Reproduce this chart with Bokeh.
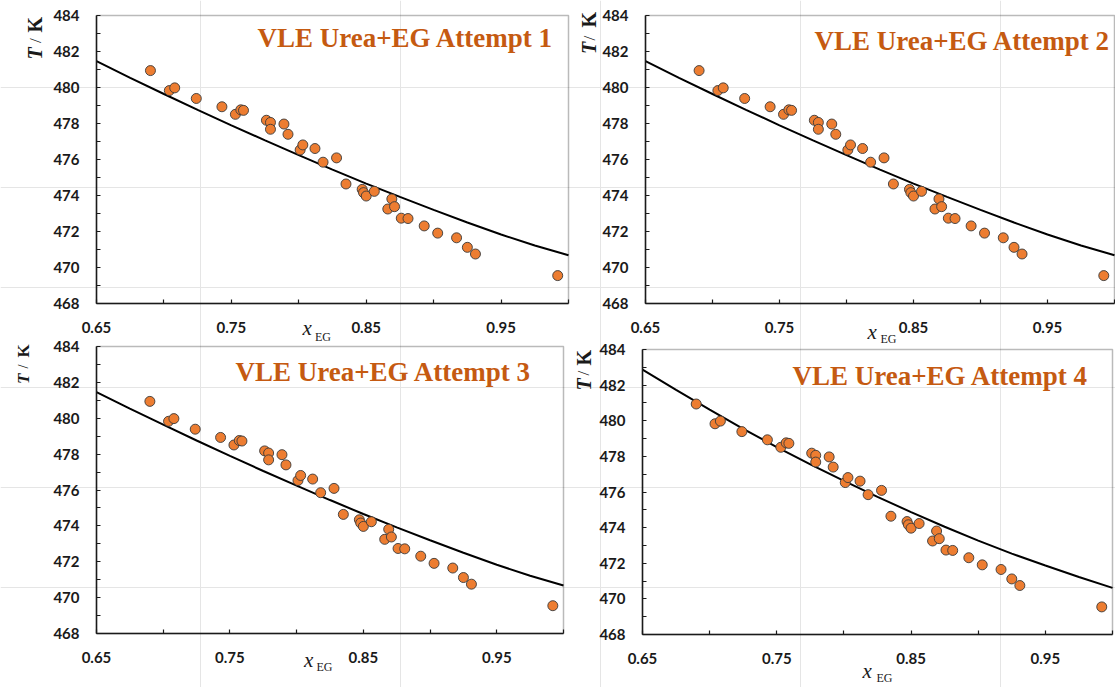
import math
from bokeh.plotting import figure
from bokeh.models import FixedTicker, Label, Range1d, LinearAxis, BoxAnnotation
from bokeh.embed import file_html
from bokeh.resources import INLINE

# ---------------- data ----------------
x_exp = [0.690, 0.704, 0.708, 0.724, 0.743, 0.753, 0.757, 0.759, 0.776, 0.779,
         0.779, 0.789, 0.792, 0.801, 0.803, 0.812, 0.818, 0.828, 0.835, 0.847,
         0.848, 0.850, 0.856, 0.866, 0.869, 0.871, 0.876, 0.881, 0.893, 0.903,
         0.917, 0.925, 0.931, 0.992]
T_exp = [480.94, 479.83, 479.98, 479.39, 478.93, 478.51, 478.76, 478.73, 478.18, 478.06,
         477.68, 477.97, 477.40, 476.53, 476.81, 476.61, 475.85, 476.09, 474.64, 474.34,
         474.16, 473.97, 474.23, 473.25, 473.81, 473.38, 472.74, 472.72, 472.31, 471.91,
         471.65, 471.12, 470.75, 469.55]

x_model = [0.650, 0.675, 0.700, 0.725, 0.750, 0.775, 0.800, 0.825,
           0.850, 0.875, 0.900, 0.925, 0.950, 0.975, 1.000]
T_model_attempts_1_3 = [481.46, 480.54, 479.64, 478.76, 477.90, 477.06, 476.24, 475.44,
                        474.66, 473.92, 473.20, 472.50, 471.83, 471.22, 470.68]
T_model_attempt_4 = [482.87, 481.73, 480.62, 479.55, 478.52, 477.55, 476.62, 475.73,
                     474.87, 474.05, 473.27, 472.54, 471.87, 471.23, 470.62]

attempt_titles = ["VLE Urea+EG Attempt 1", "VLE Urea+EG Attempt 2",
                  "VLE Urea+EG Attempt 3", "VLE Urea+EG Attempt 4"]

x_major_ticks = [0.65, 0.75, 0.85, 0.95]
x_minor_ticks = [0.70, 0.80, 0.90, 1.00]
y_major_ticks = [468, 470, 472, 474, 476, 478, 480, 482, 484]
y_minor_ticks = [469, 471, 473, 475, 477, 479, 481, 483]

# ---------------- styling / layout ----------------
X0, X1, Y0, Y1 = 0.65, 1.0, 468.0, 484.0
PAGE_W, PAGE_H = 1115, 687
SERIF = "Liberation Serif"
SANS = "Lato"
INK = "#1a1a1a"
MARKER_FILL = "#ED7D31"
TITLE_COLOR = "#C55A11"

# plot boxes in page pixels: (left, top, width, height)
boxes = [(96, 15, 472, 288), (645, 15, 469, 288),
         (96, 346, 467, 287), (642, 349, 470, 285)]
models = [T_model_attempts_1_3, T_model_attempts_1_3, T_model_attempts_1_3, T_model_attempt_4]
# title: (offset of right end from box right, offset of text middle from box top)
title_offs = [(-15, 22.5), (-4, 25.5), (-32, 25.5), (-24, 26)]
# T / K: (x of text middle from box left, start of T, start of '/', start of K from box top), size
tk_offs = [((-61.5, 44, 27.5, 17), 20), ((-56.5, 38.5, 25, 12), 20),
           ((-73, 37.5, 22, 11), 17), ((-59, 41, 26, 16), 20)]
# x_EG: (x left from box left, middle below box bottom, EG left, EG middle)
xeg_offs = [(206, 24.5, 218.5, 33), (222, 28.5, 235, 35),
            (207.5, 26, 220, 33), (220, 36.5, 234, 43.5)]

p = figure(frame_width=PAGE_W, frame_height=PAGE_H, title=None,
           min_border=0, min_border_left=0, min_border_right=0,
           min_border_top=0, min_border_bottom=0,
           x_axis_location=None, y_axis_location=None,
           x_range=Range1d(0, PAGE_W), y_range=Range1d(0, PAGE_H),
           output_backend="svg", toolbar_location=None,
           background_fill_color="white", border_fill_color="white")
p.outline_line_color = None

ex_x, ex_y = {}, {}
for i, (L, T, W, H) in enumerate(boxes):
    sx = (X1 - X0) / W
    sy = (Y1 - Y0) / H
    ex_x[f"x{i}"] = Range1d(X0 - L * sx, X0 + (PAGE_W - L) * sx)
    ex_y[f"y{i}"] = Range1d(Y0 - (PAGE_H - T - H) * sy, Y1 + T * sy)
p.extra_x_ranges = ex_x
p.extra_y_ranges = ex_y

for i, (L, T, W, H) in enumerate(boxes):
    xn, yn = f"x{i}", f"y{i}"
    sx = (X1 - X0) / W
    sy = (Y1 - Y0) / H

    def dx(px):
        return X0 + px * sx

    def dy_top(px):
        return Y1 - px * sy

    def dy_bot(px):
        return Y0 - px * sy

    xaxis = LinearAxis(x_range_name=xn, y_range_name=yn, fixed_location=Y0, bounds=(X0, X1),
                       ticker=FixedTicker(ticks=x_major_ticks, minor_ticks=x_minor_ticks))
    yaxis = LinearAxis(x_range_name=xn, y_range_name=yn, fixed_location=X0, bounds=(Y0, Y1),
                       ticker=FixedTicker(ticks=y_major_ticks, minor_ticks=y_minor_ticks))
    for ax in (xaxis, yaxis):
        ax.axis_line_color = INK
        ax.axis_line_width = 1.5
        ax.major_tick_in = 4
        ax.major_tick_out = 0
        ax.minor_tick_in = 4
        ax.minor_tick_out = 0
        ax.major_tick_line_color = INK
        ax.minor_tick_line_color = INK
        ax.major_tick_line_width = 1.2
        ax.minor_tick_line_width = 1.2
        ax.major_label_text_font = SANS
        ax.major_label_text_font_style = "bold"
        ax.major_label_text_font_size = "15px"
        ax.major_label_text_color = INK
    xaxis.major_label_standoff = 18
    yaxis.major_label_standoff = 17
    p.add_layout(xaxis, "below")
    p.add_layout(yaxis, "left")

    p.add_layout(BoxAnnotation(left=X0, right=X1, bottom=Y0, top=Y1,
                               x_range_name=xn, y_range_name=yn,
                               fill_color=None, fill_alpha=0,
                               line_color=INK, line_width=1.5))

    # model curve and experimental points
    p.line(x_model, models[i], line_color="black", line_width=2,
           x_range_name=xn, y_range_name=yn)
    p.scatter(x_exp, T_exp, size=10, fill_color=MARKER_FILL,
              line_color="#3a3a3a", line_width=0.9, marker="circle",
              x_range_name=xn, y_range_name=yn)

    # panel title
    tr, tm = title_offs[i]
    p.add_layout(Label(x=dx(W + tr), y=dy_top(tm), text=attempt_titles[i],
                       x_range_name=xn, y_range_name=yn,
                       text_font=SERIF, text_font_style="bold",
                       text_font_size="27px", text_color=TITLE_COLOR,
                       text_align="right", text_baseline="middle"))

    # y axis title  "T / K"  (rotated)
    (bx, yT, ys, yK), tk_size = tk_offs[i]
    for txt, yy, style, size in (("T", yT, "bold italic", tk_size),
                                 ("/", ys, "normal", tk_size - 3),
                                 ("K", yK, "bold", tk_size)):
        p.add_layout(Label(x=dx(bx), y=dy_top(yy), text=txt, angle=math.pi / 2,
                           x_range_name=xn, y_range_name=yn,
                           text_font=SERIF, text_font_style=style,
                           text_font_size=f"{size}px", text_color=INK,
                           text_align="left", text_baseline="middle"))

    # x axis title  x_EG
    xx, xm, exx, em = xeg_offs[i]
    p.add_layout(Label(x=dx(xx), y=dy_bot(xm), text="x",
                       x_range_name=xn, y_range_name=yn,
                       text_font=SERIF, text_font_style="italic",
                       text_font_size="21px", text_color=INK,
                       text_align="left", text_baseline="middle"))
    p.add_layout(Label(x=dx(exx), y=dy_bot(em), text="EG",
                       x_range_name=xn, y_range_name=yn,
                       text_font=SERIF, text_font_style="normal",
                       text_font_size="12px", text_color=INK,
                       text_align="left", text_baseline="middle"))

open("out.html", "w").write(file_html(p, INLINE))
